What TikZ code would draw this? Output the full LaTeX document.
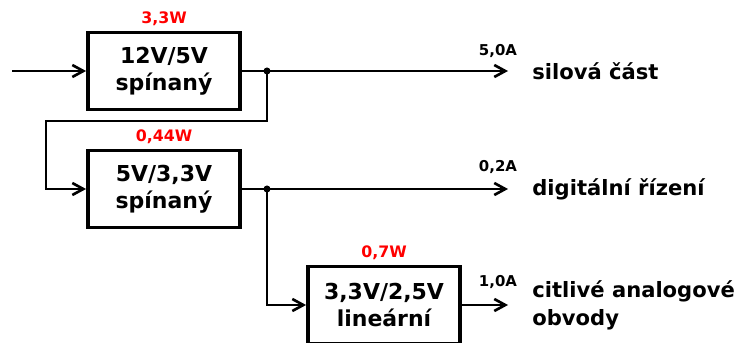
\documentclass[tikz,border=0pt]{standalone}
\usepackage{fontspec}
\setmainfont{DejaVu Sans}
\usetikzlibrary{calc,arrows.meta}

\begin{document}
\begin{tikzpicture}[
    blok/.style={draw,line width=2.2pt,minimum width=3.04cm,minimum height=1.54cm,
      align=center,font=\fontsize{12.5}{15.3}\selectfont\bfseries},
    vodic/.style={line width=1.5pt},
    sipka/.style={vodic,-{Straight Barb[length=2.2mm,width=2.4mm]}},
    ztraty/.style={red,font=\fontsize{9}{11}\selectfont\bfseries,inner sep=1pt},
    proud/.style={font=\fontsize{8.5}{10}\selectfont\bfseries,anchor=base},
    vystup/.style={anchor=west,inner sep=0pt,align=left,font=\fontsize{12}{15.9}\selectfont\bfseries}]
  \useasboundingbox (0,0) rectangle (14.78,6.84);
  \node[blok] (b1) at (3.28,5.42) {12V/5V\\spínaný};
  \node[blok] (b2) at (3.28,3.06) {5V/3,3V\\spínaný};
  \node[blok] (b3) at (7.68,0.74) {3,3V/2,5V\\lineární};
  \node[ztraty,above] (z1) at ($(b1.north)+(0,0.06)$) {3,3W};
  \node[ztraty,above] (z2) at ($(b2.north)+(0,0.06)$) {0,44W};
  \node[ztraty,above] (z3) at ($(b3.north)+(0,0.06)$) {0,7W};
  \coordinate (in) at (0.24,5.42);
  \coordinate (j1) at (5.34,5.42);
  \coordinate (j2) at (5.34,3.06);
  \coordinate (k1) at (0.92,4.42);
  \coordinate (o1) at (10.16,5.42);
  \coordinate (o2) at (10.16,3.06);
  \coordinate (o3) at (10.16,0.74);
  \draw[sipka] (in) -- (b1.west);
  \draw[sipka] (b1.east) -- (o1);
  \draw[sipka] (j1) |- (k1) |- (b2.west);
  \draw[sipka] (b2.east) -- (o2);
  \draw[sipka] (j2) |- (b3.west);
  \draw[sipka] (b3.east) -- (o3);
  \fill (j1) circle (0.07);
  \fill (j2) circle (0.07);
  \node[proud] (p1) at ($(o1)+(-0.2,0.31)$) {5,0A};
  \node[proud] (p2) at ($(o2)+(-0.2,0.34)$) {0,2A};
  \node[proud] (p3) at ($(o3)+(-0.2,0.36)$) {1,0A};
  \node[vystup] (v1) at ($(o1)+(0.48,0)$) {silová část};
  \node[vystup] (v2) at ($(o2)+(0.48,0)$) {digitální řízení};
  \node[vystup] (v3) at ($(o3)+(0.48,0)$) {citlivé analogové\\obvody};
\end{tikzpicture}
\end{document}
